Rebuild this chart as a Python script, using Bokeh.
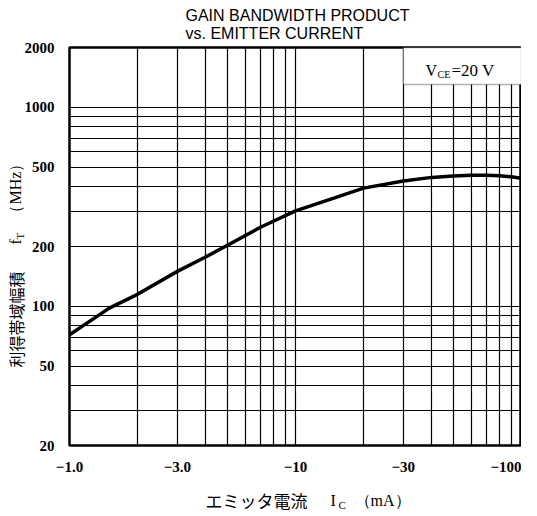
import math
from bokeh.plotting import figure
from bokeh.models import FixedTicker, Label, BoxAnnotation, Range1d
from bokeh.embed import file_html
from bokeh.resources import INLINE

# ---- data ----
ic_ma = [1, 1.5, 2, 3, 4, 5, 7, 10, 15, 20, 30, 40, 50, 60, 70, 80, 90, 100]
ft_mhz = [72, 98, 115, 150, 177, 203, 250, 302, 352, 393, 427, 445, 452, 456, 456, 453, 448, 440]

x_ticks = [1, 3, 10, 30, 100]
x_tick_labels = ["\u22121.0", "\u22123.0", "\u221210", "\u221230", "\u2212100"]
y_ticks = [20, 50, 100, 200, 500, 1000, 2000]
y_tick_labels = ["20", "50", "100", "200", "500", "1000", "2000"]
x_grid = [2, 3, 4, 5, 6, 7, 8, 9, 10, 20, 30, 40, 50, 60, 70, 80, 90]
y_grid = [30, 40, 50, 60, 70, 80, 90, 100, 200, 300, 400, 500, 600, 700, 800, 900, 1000]

title1 = "GAIN BANDWIDTH PRODUCT"
title2 = "vs. EMITTER CURRENT"
xlabel_main, xlabel_sym, xlabel_sub, xlabel_unit = "エミッタ電流", "I", "C", "（mA）"
ylabel_main, ylabel_sym, ylabel_sub, ylabel_unit = "利得帯域幅積", "f", "T", "（MHz）"
cond_sym, cond_sub, cond_val = "V", "CE", "=20 V"

# ---- layout ----
W, H = 521, 500
FL, FT, FR, FB = 69, 47, 0, 55
FW, FH = W - FL - FR, H - FT - FB
XMIN, XMAX, YMIN, YMAX = 1, 100, 20, 2000


def Y(py):  # page pixel -> data y (used for the condition box edge)
    return 10 ** (math.log10(YMIN) + (8 + FT + FH - py) / FH * math.log10(YMAX / YMIN))


p = figure(width=W, height=H, x_axis_type="log", y_axis_type="log",
           x_range=Range1d(XMIN, XMAX), y_range=Range1d(YMIN, YMAX),
           output_backend="svg", toolbar_location=None,
           min_border_left=FL, min_border_top=FT, min_border_right=FR, min_border_bottom=FB)
p.background_fill_color = "white"
p.border_fill_color = "white"
p.outline_line_color = "black"
p.outline_line_width = 2.5

serif = "Liberation Serif"
sans = "Liberation Sans"
jp = "Noto Sans CJK JP"

for ax in (p.xaxis[0], p.yaxis[0]):
    ax.axis_line_color = None
    ax.major_tick_line_color = None
    ax.minor_tick_line_color = None
    ax.major_label_text_font = serif
    ax.major_label_text_font_size = "15px"
    ax.major_label_text_font_style = "bold"
    ax.major_label_text_color = "black"

p.xaxis[0].ticker = FixedTicker(ticks=x_ticks)
p.xaxis[0].major_label_overrides = {float(t): l for t, l in zip(x_ticks, x_tick_labels)}
p.xaxis[0].major_label_standoff = 10
p.yaxis[0].ticker = FixedTicker(ticks=y_ticks)
p.yaxis[0].major_label_overrides = {float(t): l for t, l in zip(y_ticks, y_tick_labels)}
p.yaxis[0].major_label_standoff = 9

p.xgrid.ticker = FixedTicker(ticks=x_grid)
p.ygrid.ticker = FixedTicker(ticks=y_grid)
for g in (p.xgrid[0], p.ygrid[0]):
    g.grid_line_color = "black"
    g.grid_line_width = 1.2
    g.grid_line_alpha = 1.0

p.line(ic_ma, ft_mhz, line_color="black", line_width=3.5)

# condition box (white, covers the upper right grid)
p.add_layout(BoxAnnotation(left=30, right=XMAX, top=YMAX, bottom=Y(92),
                           fill_color="white", fill_alpha=1.0,
                           line_color="black", line_width=1.5))

# ---- transparent overlay canvas covering the page, for texts outside the frame ----
QW, QH = 529, 515
q = figure(width=QW, height=QH, x_range=Range1d(0, QW), y_range=Range1d(QH, 0),
           output_backend="svg", toolbar_location=None,
           x_axis_location=None, y_axis_location=None,
           min_border_left=0, min_border_right=0, min_border_top=0, min_border_bottom=0)
q.background_fill_color = None
q.border_fill_color = None
q.outline_line_color = None
q.xgrid.visible = False
q.ygrid.visible = False
q.styles = {"position": "absolute", "top": "0px", "left": "0px"}


def txt(x, y, text, font, size, align="left", baseline="middle", angle=0.0, style="normal"):
    q.add_layout(Label(x=x, y=y, text=text, text_font=font, text_font_size=size,
                       text_align=align, text_baseline=baseline, angle=angle,
                       text_font_style=style, text_color="black"))


# titles (page pixel positions)
txt(185, 15, title1, sans, "16px")
txt(185, 33, title2, sans, "16px")

# condition text
txt(425, 70, cond_sym, serif, "16px")
txt(437, 74, cond_sub, serif, "10px")
txt(451, 70, cond_val, serif, "17px")

# x axis label
txt(205, 500, xlabel_main, jp, "17px")
txt(330, 500, xlabel_sym, serif, "16px")
txt(338, 504, xlabel_sub, serif, "11px")
txt(354, 500, xlabel_unit, serif, "16px")

# y axis label (rotated, reading bottom to top)
ang = math.pi / 2
txt(15, 367, ylabel_main, jp, "16px", angle=ang)
txt(15, 244, ylabel_sym, serif, "16px", angle=ang)
txt(19, 239, ylabel_sub, serif, "11px", angle=ang)
txt(15, 220, ylabel_unit, serif, "16px", angle=ang)

open("out.html", "w").write(file_html([p, q], INLINE))
